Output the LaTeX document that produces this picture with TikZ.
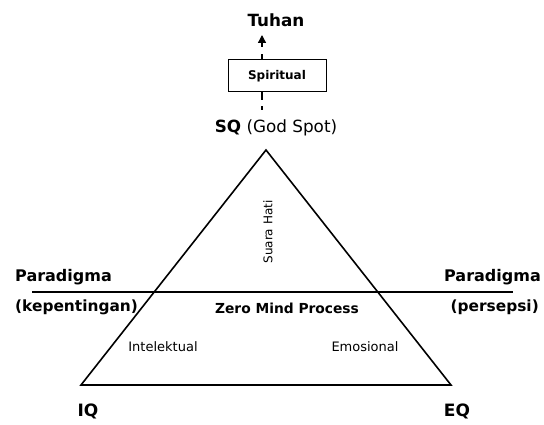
\documentclass[tikz,border=0pt]{standalone}
\usepackage{fontspec}
\setmainfont{DejaVu Sans}
\usetikzlibrary{arrows.meta}
\begin{document}
\begin{tikzpicture}[x=1pt,y=-1pt,
  lbl/.style={inner sep=0pt,font=\fontsize{16}{19}\selectfont\bfseries},
  lblp/.style={inner sep=0pt,font=\fontsize{15.4}{17}\selectfont\bfseries},
  big/.style={inner sep=0pt,font=\fontsize{16.8}{19}\selectfont\bfseries},
  small/.style={inner sep=0pt,font=\fontsize{13}{15}\selectfont},
  edge/.style={line width=1.6pt,line join=miter},
  conn/.style={line width=1.3pt,dash pattern=on 8pt off 6pt}]
\useasboundingbox (0,0) rectangle (544,425);
% triangle
\coordinate (top) at (266,150);
\coordinate (bl) at (81,385);
\coordinate (br) at (451,385);
\draw[edge] (top) -- (bl) -- (br) -- cycle;
% horizontal line
\coordinate (hl) at (32,292);
\coordinate (hr) at (513,292);
\draw[line width=1.5pt] (hl) -- (hr);
% top labels
\node[big] (tuhan) at (276,20) {Tuhan};
\node[draw,line width=1pt,minimum width=98pt,minimum height=32pt,inner sep=0pt,
      font=\fontsize{12}{14}\selectfont\bfseries] (spir) at (277,76) {Spiritual};
\node[inner sep=0pt,font=\fontsize{16.8}{19}\selectfont,anchor=center] (sq) at (276,128) {\textbf{SQ} (God Spot)};
\coordinate (sqtop) at (262,110);
\coordinate (arrtip) at (262,35);
\draw[conn] (spir.south -| sqtop) -- (sqtop);
\draw[line width=1.3pt] (spir.north -| arrtip) -- ++(0,-5);
\draw[line width=1.3pt,-{Triangle[length=8pt,width=8pt]}] (262,47) -- (arrtip);
% inside labels
\node[small,rotate=90,font=\fontsize{12}{14}\selectfont] (hati) at (268,232) {Suara Hati};
\node[inner sep=0pt,font=\fontsize{13.8}{16}\selectfont\bfseries] (zmp) at (287,308) {Zero Mind Process};
\node[small] (intel) at (163,347) {Intelektual};
\node[small] (emo) at (365,347) {Emosional};
% side labels
\node[lbl,anchor=west] (pl) at (15,277) {Paradigma};
\node[lblp,anchor=west] (kep) at (15,307) {(kepentingan)};
\node[lbl,anchor=east] (pr) at (541,277) {Paradigma};
\node[lblp,anchor=east] (per) at (539,307) {(persepsi)};
% corners
\node[inner sep=0pt,font=\fontsize{17}{20}\selectfont\bfseries] (iq) at (88,411) {IQ};
\node[inner sep=0pt,font=\fontsize{17}{20}\selectfont\bfseries] (eq) at (457,411) {EQ};
\end{tikzpicture}
\end{document}
